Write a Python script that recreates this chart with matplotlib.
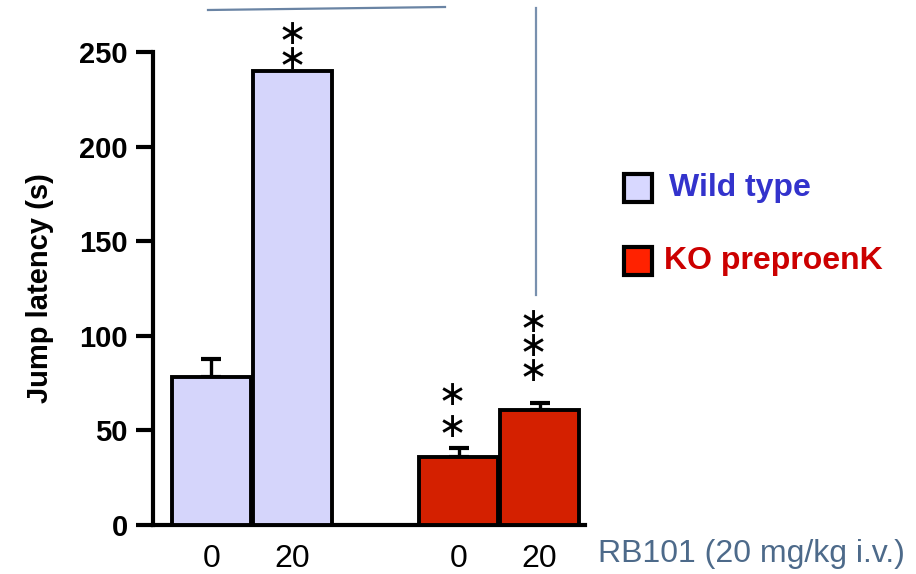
import matplotlib
matplotlib.use("Agg")
import matplotlib.pyplot as plt
from matplotlib import font_manager as fm
from matplotlib.patches import Rectangle
from matplotlib.lines import Line2D

# Jump latency (s) after RB101 (0 or 20 mg/kg i.v.)
groups = ["Wild type", "KO preproenK"]
doses = ["0", "20", "0", "20"]
latency = [78, 240, 36, 61]
sem = [10, 0, 4.5, 3.5]
stars = ["", "**", "**", "***"]
yticks = [0, 50, 100, 150, 200, 250]
xlabel_text = "RB101 (20 mg/kg i.v.)"
ylabel_text = "Jump latency (s)"

names = {f.name for f in fm.fontManager.ttflist}
narrow = "Liberation Sans Narrow" if "Liberation Sans Narrow" in names else "Liberation Sans"

wt_fill, ko_fill = "#d5d5fb", "#d42000"
fills = [wt_fill, wt_fill, ko_fill, ko_fill]
xpos = [0.72, 1.72, 3.77, 4.77]
width = 0.98

fig = plt.figure(figsize=(9.16, 5.74), dpi=100)
ax = fig.add_axes([153 / 916, 1 - 525 / 574, (585 - 153) / 916, (525 - 52) / 574])
ax.set_xlim(0, 5.33)
ax.set_ylim(0, 250)

ax.bar(xpos, latency, width=width, color=fills, edgecolor="black", linewidth=2.8, zorder=3)
for x, v, e in zip(xpos, latency, sem):
    if e > 0:
        ax.errorbar([x], [v], yerr=[[0], [e]], fmt="none", ecolor="black",
                    elinewidth=2.4, capsize=7, capthick=3, zorder=2)

# significance asterisks, one stacked column per bar:
# (gap above the bar/error bar in data units, line spacing)
star_layout = {1: (-2.5, 0.66), 2: (2.5, 0.9), 3: (8, 0.65)}
star_shift = {1: 0.0, 2: -0.085, 3: -0.085}
for i, s in enumerate(stars):
    if not s:
        continue
    gap, ls = star_layout[i]
    top = latency[i] + sem[i]
    ax.text(xpos[i] + star_shift[i], top + gap, "\n".join("\u2217" * len(s)),
            ha="center", va="bottom", fontsize=25, family="DejaVu Sans",
            linespacing=ls, color="black", clip_on=False)

for sp in ["top", "right"]:
    ax.spines[sp].set_visible(False)
ax.spines["left"].set_linewidth(3)
ax.spines["bottom"].set_linewidth(3)
ax.set_yticks(yticks)
ax.set_yticklabels([str(t) for t in yticks], fontsize=21, fontweight="bold",
                   family="Liberation Sans")
ax.tick_params(axis="y", direction="out", length=12, width=3, pad=6)
ax.set_xticks(xpos)
ax.set_xticklabels(doses, fontsize=23, family=narrow)
ax.tick_params(axis="x", length=0, pad=14)
ax.set_ylabel(ylabel_text, fontsize=21, fontweight="bold", family="Liberation Sans", labelpad=18)

fig.text(598 / 916, 1 - 554 / 574, xlabel_text, fontsize=23, family=narrow,
         color="#4d6a8a", ha="left", va="center")

# legend boxes
for (y, fc, label, tc, tx) in [(188, "#d8d8ff", groups[0], "#3333cc", 669),
                               (261, "#ff2200", groups[1], "#cc0000", 664)]:
    fig.patches.append(Rectangle((624 / 916, 1 - (y + 14) / 574), 28 / 916, 28 / 574,
                                 transform=fig.transFigure, facecolor=fc,
                                 edgecolor="black", linewidth=3))
    fig.text(tx / 916, 1 - y / 574, label, fontsize=23,
             fontweight="bold", family="Liberation Sans", color=tc, ha="left", va="center")

# bracket lines
fig.add_artist(Line2D([208 / 916, 445 / 916], [1 - 10 / 574, 1 - 7 / 574],
                      color="#6a84a4", linewidth=1.6, transform=fig.transFigure))
fig.add_artist(Line2D([536 / 916, 536 / 916], [1 - 8 / 574, 1 - 295 / 574],
                      color="#7890ae", linewidth=1.6, transform=fig.transFigure))

fig.savefig("out.png", dpi=100)
